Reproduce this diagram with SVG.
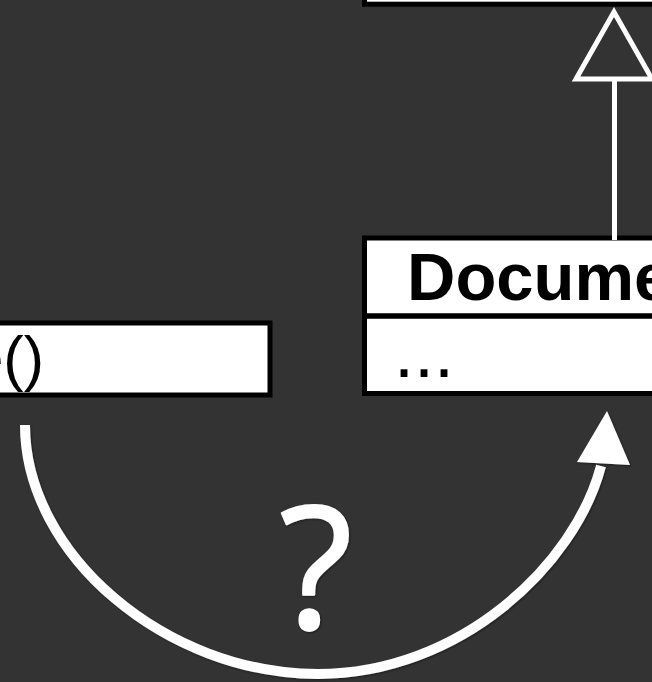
<svg xmlns="http://www.w3.org/2000/svg" width="652" height="682" viewBox="0 0 652 682">
  <defs>
    <style>
      .box { fill: #ffffff; stroke: #000000; stroke-width: 5; }
      .divider { stroke: #000000; stroke-width: 5.5; }
      .label { font-family: "Liberation Sans", Arial, sans-serif; fill: #000000; }
      .conn { fill: none; stroke: #ffffff; }
    </style>
    <filter id="shadow" x="-10%" y="-10%" width="120%" height="120%">
      <feDropShadow dx="1" dy="1" stdDeviation="1" flood-color="#000000" flood-opacity="0.45"/>
    </filter>
  </defs>
  <rect x="0" y="0" width="652" height="682" fill="#333333"/>

  <g id="node-top">
    <rect class="box" x="364.5" y="-100" width="300" height="104.2"/>
  </g>

  <g id="node-document">
    <rect class="box" x="364.5" y="238" width="300" height="155.5"/>
    <line class="divider" x1="364.5" y1="316" x2="652" y2="316"/>
    <text class="label" x="407" y="300" font-size="67" font-weight="bold">Docume</text>
    <text class="label" x="394" y="377" font-size="72">...</text>
  </g>

  <g id="node-left">
    <rect class="box" x="-10" y="323" width="280" height="72" stroke-width="4.5"/>
    <text class="label" x="44" y="379" font-size="61" text-anchor="end">e()</text>
  </g>

  <g id="connectors">
    <line class="conn" x1="614.5" y1="79" x2="614.5" y2="240" stroke-width="5"/>
    <polygon points="614,12 576,79 652,79" fill="#333333" stroke="#ffffff" stroke-width="5"/>
    <g filter="url(#shadow)">
      <path class="conn" stroke-width="10" d="M25,425 C25,554.5 165.6,674 318,674 C460,674 575,565 601,466"/>
      <polygon points="607,411 577,462 630,465" fill="#ffffff"/>
    </g>
  </g>

  <g id="question">
    <text x="316" y="629" font-family="'Open Sans', 'Noto Sans', sans-serif" font-size="170" fill="#ffffff" stroke="#ffffff" stroke-width="2" stroke-linejoin="round" text-anchor="middle" filter="url(#shadow)">?</text>
  </g>
</svg>
